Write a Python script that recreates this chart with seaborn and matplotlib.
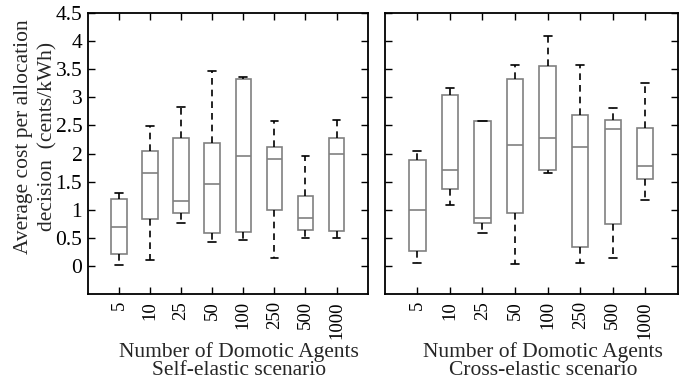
import pandas as pd
import matplotlib
matplotlib.use('Agg')
import matplotlib.pyplot as plt
import seaborn as sns

# category labels (number of domotic agents)
agents = ['5', '10', '25', '50', '100', '250', '500', '1000']

# five-number summaries: low whisker, q1, median, q3, high whisker
self_lo = [0.02, 0.11, 0.77, 0.43, 0.46, 0.14, 0.49, 0.49]
self_q1 = [0.22, 0.83, 0.94, 0.58, 0.61, 1.00, 0.64, 0.62]
self_med = [0.70, 1.65, 1.16, 1.45, 1.96, 1.90, 0.85, 1.99]
self_q3 = [1.20, 2.04, 2.28, 2.18, 3.32, 2.11, 1.24, 2.28]
self_hi = [1.29, 2.49, 2.82, 3.46, 3.36, 2.58, 1.96, 2.59]

cross_lo = [0.06, 1.09, 0.59, 0.04, 1.65, 0.05, 0.14, 1.17]
cross_q1 = [0.27, 1.375, 0.77, 0.95, 1.70, 0.33, 0.74, 1.55]
cross_med = [1.00, 1.71, 0.86, 2.16, 2.27, 2.125, 2.44, 1.77]
cross_q3 = [1.88, 3.04, 2.58, 3.33, 3.55, 2.68, 2.59, 2.45]
cross_hi = [2.04, 3.16, 2.58, 3.57, 4.09, 3.58, 2.81, 3.26]

yticks = [0, 0.5, 1, 1.5, 2, 2.5, 3, 3.5, 4, 4.5]
ytick_labels = ['0', '0.5', '1', '1.5', '2', '2.5', '3', '3.5', '4', '4.5']


def to_long(lo, q1, med, q3, hi):
    # five values per box give exactly these quartiles with whiskers at min/max
    rows = []
    for i, a in enumerate(agents):
        for v in (lo[i], q1[i], med[i], q3[i], hi[i]):
            rows.append({'agents': a, 'cost': v})
    return pd.DataFrame(rows)


df_self = to_long(self_lo, self_q1, self_med, self_q3, self_hi)
df_cross = to_long(cross_lo, cross_q1, cross_med, cross_q3, cross_hi)

sns.set_style('ticks')
plt.rcParams['font.family'] = ['Liberation Serif', 'DejaVu Serif']

fig = plt.figure(figsize=(6.86, 3.81), dpi=100)
ax1 = fig.add_axes([0.128, 0.228, 0.408, 0.738])
ax2 = fig.add_axes([0.561, 0.228, 0.427, 0.738])

gray = '#808080'
for ax, df, title in [(ax1, df_self, 'Self-elastic scenario'),
                      (ax2, df_cross, 'Cross-elastic scenario')]:
    sns.boxplot(data=df, x='agents', y='cost', order=agents, ax=ax,
                color='white', linecolor=gray, linewidth=1.2, width=0.5,
                whis=(0, 100), fliersize=0,
                whiskerprops=dict(color='black', linestyle=(0, (4, 3))),
                capprops=dict(color='black'),
                medianprops=dict(color=gray))
    ax.set_xlim(-1, 8)
    ax.set_ylim(-0.5, 4.5)
    ax.set_yticks(yticks)
    ax.tick_params(direction='in', length=5, width=1, top=True, right=True,
                   colors='black')
    ax.tick_params(axis='y', labelsize=15.5, pad=4)
    ax.tick_params(axis='x', labelsize=13.5, labelrotation=90, pad=5)
    for s in ax.spines.values():
        s.set_visible(True)
        s.set_linewidth(1.3)
        s.set_color('black')
    ax.set_xlabel('Number of Domotic Agents\n' + title, fontsize=15.5,
                  linespacing=0.88)
    ax.xaxis.set_label_coords(0.54, -0.172, transform=ax.transAxes)
    ax.xaxis.label.set_va('top')

ax1.set_yticklabels(ytick_labels)
ax2.set_yticklabels([])
ax2.set_ylabel('')
ax1.set_ylabel('Average cost per allocation\ndecision  (cents/kWh)',
               fontsize=15.5, linespacing=1.4)
ax1.yaxis.set_label_coords(-0.108, 0.56)

fig.savefig('out.png', dpi=100)
